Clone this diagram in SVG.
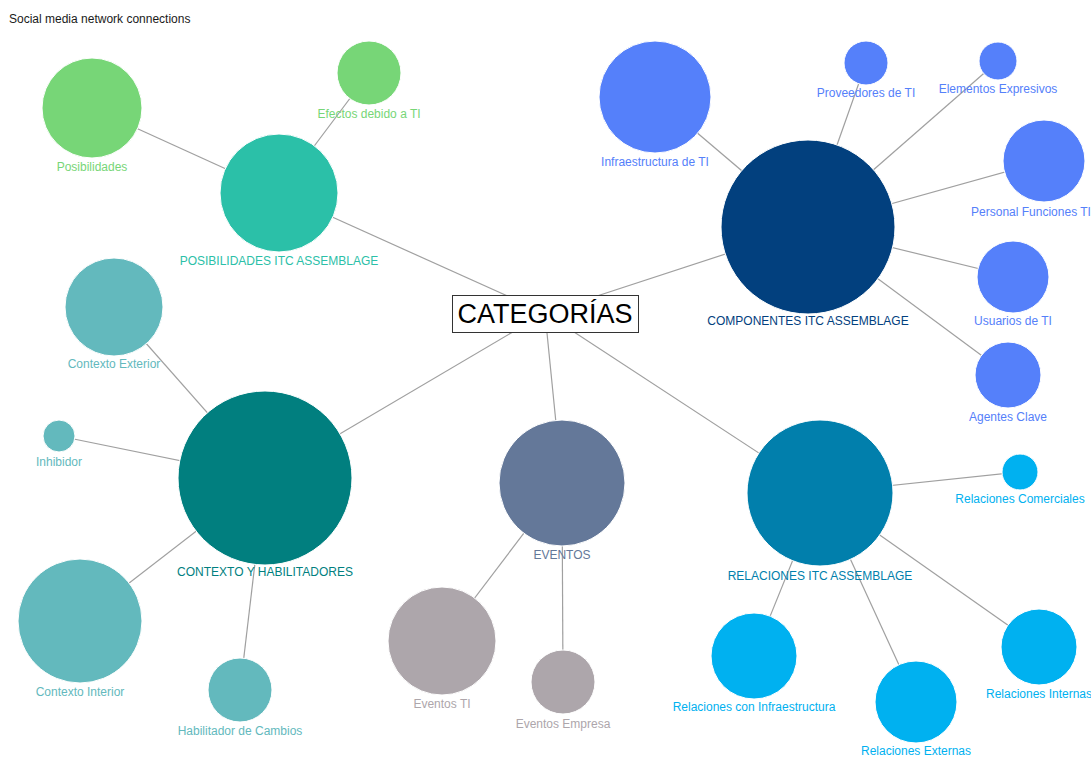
<svg xmlns="http://www.w3.org/2000/svg" width="1091" height="760" viewBox="0 0 1091 760">
  <style>
    .edge { stroke: #a0a0a0; stroke-width: 1.2; fill: none; }
    .node circle { stroke: #ffffff; stroke-width: 1; }
    .lbl { font-family: "Liberation Sans", Arial, sans-serif; font-size: 12px; text-anchor: middle; }
    .title { font-family: "Liberation Sans", Arial, sans-serif; font-size: 12px; fill: #1a1a1a; }
    .root-text { font-family: "Liberation Sans", Arial, sans-serif; font-size: 27px; text-anchor: middle; fill: #000; }
    .green { fill: #77d677; }
    .sea { fill: #2bc0a8; }
    .teal { fill: #017f7f; }
    .lteal { fill: #63b9bd; }
    .navy { fill: #02407e; }
    .blue { fill: #5580fa; }
    .slate { fill: #647899; }
    .grey { fill: #ada6ab; }
    .ocean { fill: #017fac; }
    .sky { fill: #00b1f0; }
  </style>

  <rect width="1091" height="760" fill="#ffffff"/>
  <text class="title" x="9" y="23">Social media network connections</text>

  <!-- connectors -->
  <g id="connectors">
    <line class="edge" x1="545" y1="313" x2="279" y2="193"/>
    <line class="edge" x1="545" y1="313" x2="808" y2="227"/>
    <line class="edge" x1="545" y1="313" x2="265" y2="478"/>
    <line class="edge" x1="545" y1="313" x2="562" y2="483"/>
    <line class="edge" x1="545" y1="313" x2="820" y2="493"/>

    <line class="edge" x1="279" y1="193" x2="92" y2="108"/>
    <line class="edge" x1="279" y1="193" x2="369" y2="73"/>

    <line class="edge" x1="808" y1="227" x2="655" y2="97"/>
    <line class="edge" x1="808" y1="227" x2="866" y2="63"/>
    <line class="edge" x1="808" y1="227" x2="998" y2="61"/>
    <line class="edge" x1="808" y1="227" x2="1044" y2="161"/>
    <line class="edge" x1="808" y1="227" x2="1013" y2="277"/>
    <line class="edge" x1="808" y1="227" x2="1008" y2="375"/>

    <line class="edge" x1="265" y1="478" x2="114" y2="307"/>
    <line class="edge" x1="265" y1="478" x2="59" y2="436"/>
    <line class="edge" x1="265" y1="478" x2="80" y2="621"/>
    <line class="edge" x1="265" y1="478" x2="240" y2="690"/>

    <line class="edge" x1="562" y1="483" x2="442" y2="641"/>
    <line class="edge" x1="562" y1="483" x2="563" y2="682"/>

    <line class="edge" x1="820" y1="493" x2="1020" y2="472"/>
    <line class="edge" x1="820" y1="493" x2="754" y2="656"/>
    <line class="edge" x1="820" y1="493" x2="916" y2="702"/>
    <line class="edge" x1="820" y1="493" x2="1039" y2="647"/>
  </g>

  <!-- posibilidades branch -->
  <g id="n-posibilidades" class="node">
    <circle class="green" cx="92" cy="108" r="50"/>
    <text class="lbl green" x="92" y="171">Posibilidades</text>
  </g>
  <g id="n-efectos" class="node">
    <circle class="green" cx="369" cy="73" r="32"/>
    <text class="lbl green" x="369" y="118">Efectos debido a TI</text>
  </g>
  <g id="n-posibilidades-itc" class="node">
    <circle class="sea" cx="279" cy="193" r="59"/>
    <text class="lbl sea" x="279" y="265">POSIBILIDADES ITC ASSEMBLAGE</text>
  </g>

  <!-- componentes branch -->
  <g id="n-componentes" class="node">
    <circle class="navy" cx="808" cy="227" r="87"/>
    <text class="lbl navy" x="808" y="325">COMPONENTES ITC ASSEMBLAGE</text>
  </g>
  <g id="n-infraestructura" class="node">
    <circle class="blue" cx="655" cy="97" r="56"/>
    <text class="lbl blue" x="655" y="166">Infraestructura de TI</text>
  </g>
  <g id="n-proveedores" class="node">
    <circle class="blue" cx="866" cy="63" r="22"/>
    <text class="lbl blue" x="866" y="97">Proveedores de TI</text>
  </g>
  <g id="n-elementos" class="node">
    <circle class="blue" cx="998" cy="61" r="19"/>
    <text class="lbl blue" x="998" y="93">Elementos Expresivos</text>
  </g>
  <g id="n-personal" class="node">
    <circle class="blue" cx="1044" cy="161" r="41"/>
    <text class="lbl blue" x="1031" y="216">Personal Funciones TI</text>
  </g>
  <g id="n-usuarios" class="node">
    <circle class="blue" cx="1013" cy="277" r="36"/>
    <text class="lbl blue" x="1013" y="325">Usuarios de TI</text>
  </g>
  <g id="n-agentes" class="node">
    <circle class="blue" cx="1008" cy="375" r="33"/>
    <text class="lbl blue" x="1008" y="421">Agentes Clave</text>
  </g>

  <!-- contexto branch -->
  <g id="n-contexto" class="node">
    <circle class="teal" cx="265" cy="478" r="87"/>
    <text class="lbl teal" x="265" y="576">CONTEXTO Y HABILITADORES</text>
  </g>
  <g id="n-contexto-exterior" class="node">
    <circle class="lteal" cx="114" cy="307" r="49"/>
    <text class="lbl lteal" x="114" y="368">Contexto Exterior</text>
  </g>
  <g id="n-inhibidor" class="node">
    <circle class="lteal" cx="59" cy="436" r="16"/>
    <text class="lbl lteal" x="59" y="466">Inhibidor</text>
  </g>
  <g id="n-contexto-interior" class="node">
    <circle class="lteal" cx="80" cy="621" r="62"/>
    <text class="lbl lteal" x="80" y="696">Contexto Interior</text>
  </g>
  <g id="n-habilitador" class="node">
    <circle class="lteal" cx="240" cy="690" r="32"/>
    <text class="lbl lteal" x="240" y="735">Habilitador de Cambios</text>
  </g>

  <!-- eventos branch -->
  <g id="n-eventos" class="node">
    <circle class="slate" cx="562" cy="483" r="63"/>
    <text class="lbl slate" x="562" y="559">EVENTOS</text>
  </g>
  <g id="n-eventos-ti" class="node">
    <circle class="grey" cx="442" cy="641" r="54"/>
    <text class="lbl grey" x="442" y="708">Eventos TI</text>
  </g>
  <g id="n-eventos-empresa" class="node">
    <circle class="grey" cx="563" cy="682" r="32"/>
    <text class="lbl grey" x="563" y="728">Eventos Empresa</text>
  </g>

  <!-- relaciones branch -->
  <g id="n-relaciones" class="node">
    <circle class="ocean" cx="820" cy="493" r="73"/>
    <text class="lbl ocean" x="820" y="580">RELACIONES ITC ASSEMBLAGE</text>
  </g>
  <g id="n-rel-comerciales" class="node">
    <circle class="sky" cx="1020" cy="472" r="18"/>
    <text class="lbl sky" x="1020" y="503">Relaciones Comerciales</text>
  </g>
  <g id="n-rel-infra" class="node">
    <circle class="sky" cx="754" cy="656" r="43"/>
    <text class="lbl sky" x="754" y="711">Relaciones con Infraestructura</text>
  </g>
  <g id="n-rel-externas" class="node">
    <circle class="sky" cx="916" cy="702" r="41"/>
    <text class="lbl sky" x="916" y="755">Relaciones Externas</text>
  </g>
  <g id="n-rel-internas" class="node">
    <circle class="sky" cx="1039" cy="647" r="38"/>
    <text class="lbl sky" x="1039" y="698">Relaciones Internas</text>
  </g>

  <!-- root -->
  <g id="n-categorias">
    <rect x="452.5" y="295.5" width="186" height="37" fill="#ffffff" stroke="#333333" stroke-width="1"/>
    <text class="root-text" x="545" y="323">CATEGORÍAS</text>
  </g>
</svg>
